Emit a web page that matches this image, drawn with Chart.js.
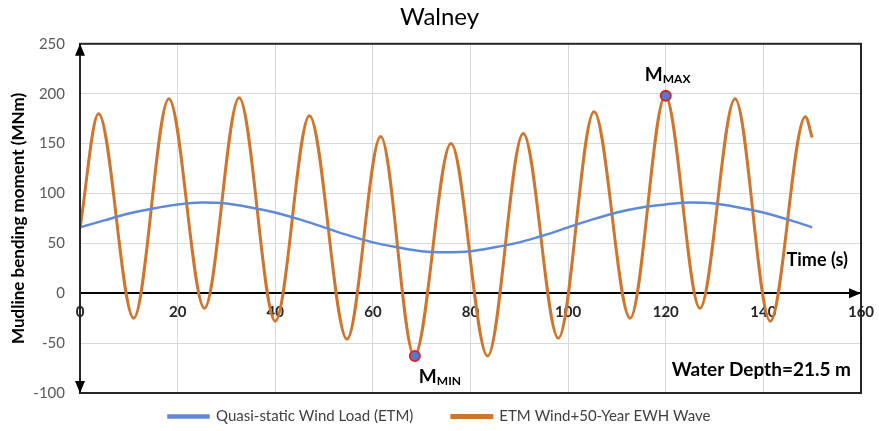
<!DOCTYPE html>
<html>
<head>
<meta charset="utf-8">
<title>Walney</title>
<script src="https://cdn.jsdelivr.net/npm/chart.js@4/dist/chart.umd.min.js"></script>
<style>
  body { margin: 0; background: #fff; }
</style>
</head>
<body>
<canvas id="chart" width="879" height="431"></canvas>
<script>
// quasi-static wind load, read every 5 s
let wind_time = [0, 5, 10, 15, 20, 25, 30, 35, 40, 45, 50, 55, 60, 65, 70, 75,
                 80, 85, 90, 95, 100, 105, 110, 115, 120, 125, 130, 135, 140, 145, 150];
let wind_moment = [66, 73, 80, 85, 89, 91, 90, 86, 81, 74, 66, 58, 51, 46, 42, 41,
                   42, 46, 51, 58, 66, 74, 81, 86, 89, 91, 90, 86, 81, 74, 66];

// wind + wave: peaks and troughs
let wave_time = [0, 3.8, 11, 18.2, 25.5, 32.6, 40, 47, 54.7, 61.6, 68.5, 76, 83.5,
                 90.8, 98, 105.3, 112.7, 119.9, 127, 134.2, 141.4, 148.6, 150];
let wave_moment = [65, 180, -25, 195, -15, 196, -28, 178, -46, 157, -63, 150, -63,
                   160, -45, 182, -25, 198, -15, 195, -28, 177, 156];

let x_ticks = [0, 20, 40, 60, 80, 100, 120, 140, 160];
let y_ticks = [-100, -50, 0, 50, 100, 150, 200, 250];

let extreme_names = ['MAX', 'MIN'];
let extreme_time = [120, 68.6];
let extreme_moment = [198, -63];

const FONT = 'Lato';

function toPoints(xs, ys) {
    return xs.map(function(x, i) { return {x: x, y: ys[i]}; });
}

function arrow(ctx, x, y, dir) {
    // small filled triangle with the tip at (x, y)
    let l = 12, w = 5;
    ctx.beginPath();
    if (dir == 'up') {
        ctx.moveTo(x, y); ctx.lineTo(x - w, y + l); ctx.lineTo(x + w, y + l);
    } else if (dir == 'down') {
        ctx.moveTo(x, y); ctx.lineTo(x - w, y - l); ctx.lineTo(x + w, y - l);
    } else {
        ctx.moveTo(x, y); ctx.lineTo(x - l, y - w); ctx.lineTo(x - l, y + w);
    }
    ctx.closePath();
    ctx.fill();
}

let decorations = {
    id: 'decorations',
    afterDraw: function(chart) {
        let ctx = chart.ctx;
        let a = chart.chartArea;
        let xs = chart.scales.x, ys = chart.scales.y;
        let y0 = ys.getPixelForValue(0);
        ctx.save();

        // plot frame
        ctx.strokeStyle = '#262626';
        ctx.lineWidth = 2;
        ctx.strokeRect(a.left, a.top, a.right - a.left, a.bottom - a.top);

        // axis arrows
        ctx.fillStyle = '#000';
        arrow(ctx, a.left, a.top, 'up');
        arrow(ctx, a.left, a.bottom, 'down');
        arrow(ctx, a.right, y0, 'right');

        // M_MAX / M_MIN labels next to the markers
        ctx.textBaseline = 'alphabetic';
        ctx.textAlign = 'left';
        let offsets = [[-21, -15], [4, 27]];
        extreme_names.forEach(function(name, i) {
            let px = xs.getPixelForValue(extreme_time[i]) + offsets[i][0];
            let py = ys.getPixelForValue(extreme_moment[i]) + offsets[i][1];
            ctx.font = 'bold 19px ' + FONT;
            ctx.fillText('M', px, py);
            let mw = ctx.measureText('M').width;
            ctx.font = 'bold 12px ' + FONT;
            ctx.fillText(name, px + mw, py + 2);
        });

        // axis caption and depth note
        ctx.textAlign = 'right';
        ctx.font = 'bold 18px ' + FONT;
        ctx.fillText('Time (s)', a.right - 13, y0 - 27);
        ctx.font = 'bold 19px ' + FONT;
        ctx.fillText('Water Depth=21.5 m', a.right - 10, a.bottom - 17);
        ctx.restore();
    }
};

let ctx = document.getElementById('chart').getContext('2d');
new Chart(ctx, {
    type: 'line',
    data: {
        datasets: [
            {
                label: 'markers',
                data: toPoints(extreme_time, extreme_moment),
                showLine: false,
                pointRadius: 5,
                pointBackgroundColor: '#4a7fd0',
                pointBorderColor: '#e0202a',
                pointBorderWidth: 2,
                order: -1
            },
            {
                label: 'Quasi-static Wind Load (ETM)',
                data: toPoints(wind_time, wind_moment),
                borderColor: '#5f8ad8',
                backgroundColor: '#5f8ad8',
                borderWidth: 2.5,
                pointRadius: 0,
                cubicInterpolationMode: 'monotone'
            },
            {
                label: 'ETM Wind+50-Year EWH Wave',
                data: toPoints(wave_time, wave_moment),
                borderColor: '#d0752c',
                backgroundColor: '#d0752c',
                borderWidth: 3,
                pointRadius: 0,
                cubicInterpolationMode: 'monotone'
            }
        ]
    },
    options: {
        responsive: false,
        animation: false,
        layout: { padding: { left: 0, right: 0, top: 0, bottom: -3 } },
        scales: {
            x: {
                type: 'linear',
                min: 0,
                max: 160,
                position: { y: 0 },
                afterBuildTicks: function(scale) {
                    scale.ticks = x_ticks.map(function(v) { return {value: v}; });
                },
                afterFit: function(scale) {
                    // room on the right of the plot, independent of the last label
                    scale.paddingLeft = 0;
                    scale.paddingRight = 18;
                },
                grid: { color: '#d9d9d9', drawTicks: false },
                border: { color: '#000', width: 2 },
                ticks: {
                    padding: 10,
                    color: '#262626',
                    font: { family: FONT, size: 15, weight: 'bold' }
                }
            },
            y: {
                min: -100,
                max: 250,
                afterBuildTicks: function(scale) {
                    scale.ticks = y_ticks.map(function(v) { return {value: v}; });
                },
                afterFit: function(scale) { scale.width = 80; },
                grid: { color: '#d9d9d9', drawTicks: false },
                border: { color: '#000', width: 2 },
                ticks: {
                    padding: 15,
                    color: '#595959',
                    font: { family: FONT, size: 15 }
                },
                title: {
                    display: true,
                    text: 'Mudline bending moment (MNm)',
                    color: '#000',
                    padding: { top: 8, bottom: 0 },
                    font: { family: FONT, size: 17, weight: 'bold' }
                }
            }
        },
        plugins: {
            title: {
                display: true,
                text: 'Walney',
                color: '#000',
                padding: { top: 3, bottom: 12 },
                font: { family: FONT, size: 24, weight: 'normal' }
            },
            legend: {
                position: 'bottom',
                labels: {
                    boxWidth: 40,
                    boxHeight: 2,
                    padding: 16,
                    color: '#404040',
                    font: { family: FONT, size: 15 },
                    filter: function(item) { return item.text != 'markers'; },
                    generateLabels: function(chart) {
                        let items = Chart.defaults.plugins.legend.labels.generateLabels(chart);
                        // wider gap between the two entries, as in the original
                        items.forEach(function(item) {
                            if (item.datasetIndex == 1) item.text += '\u2002\u2002\u2002';
                        });
                        return items;
                    }
                }
            },
            tooltip: { enabled: false }
        }
    },
    plugins: [decorations]
});
</script>
</body>
</html>
